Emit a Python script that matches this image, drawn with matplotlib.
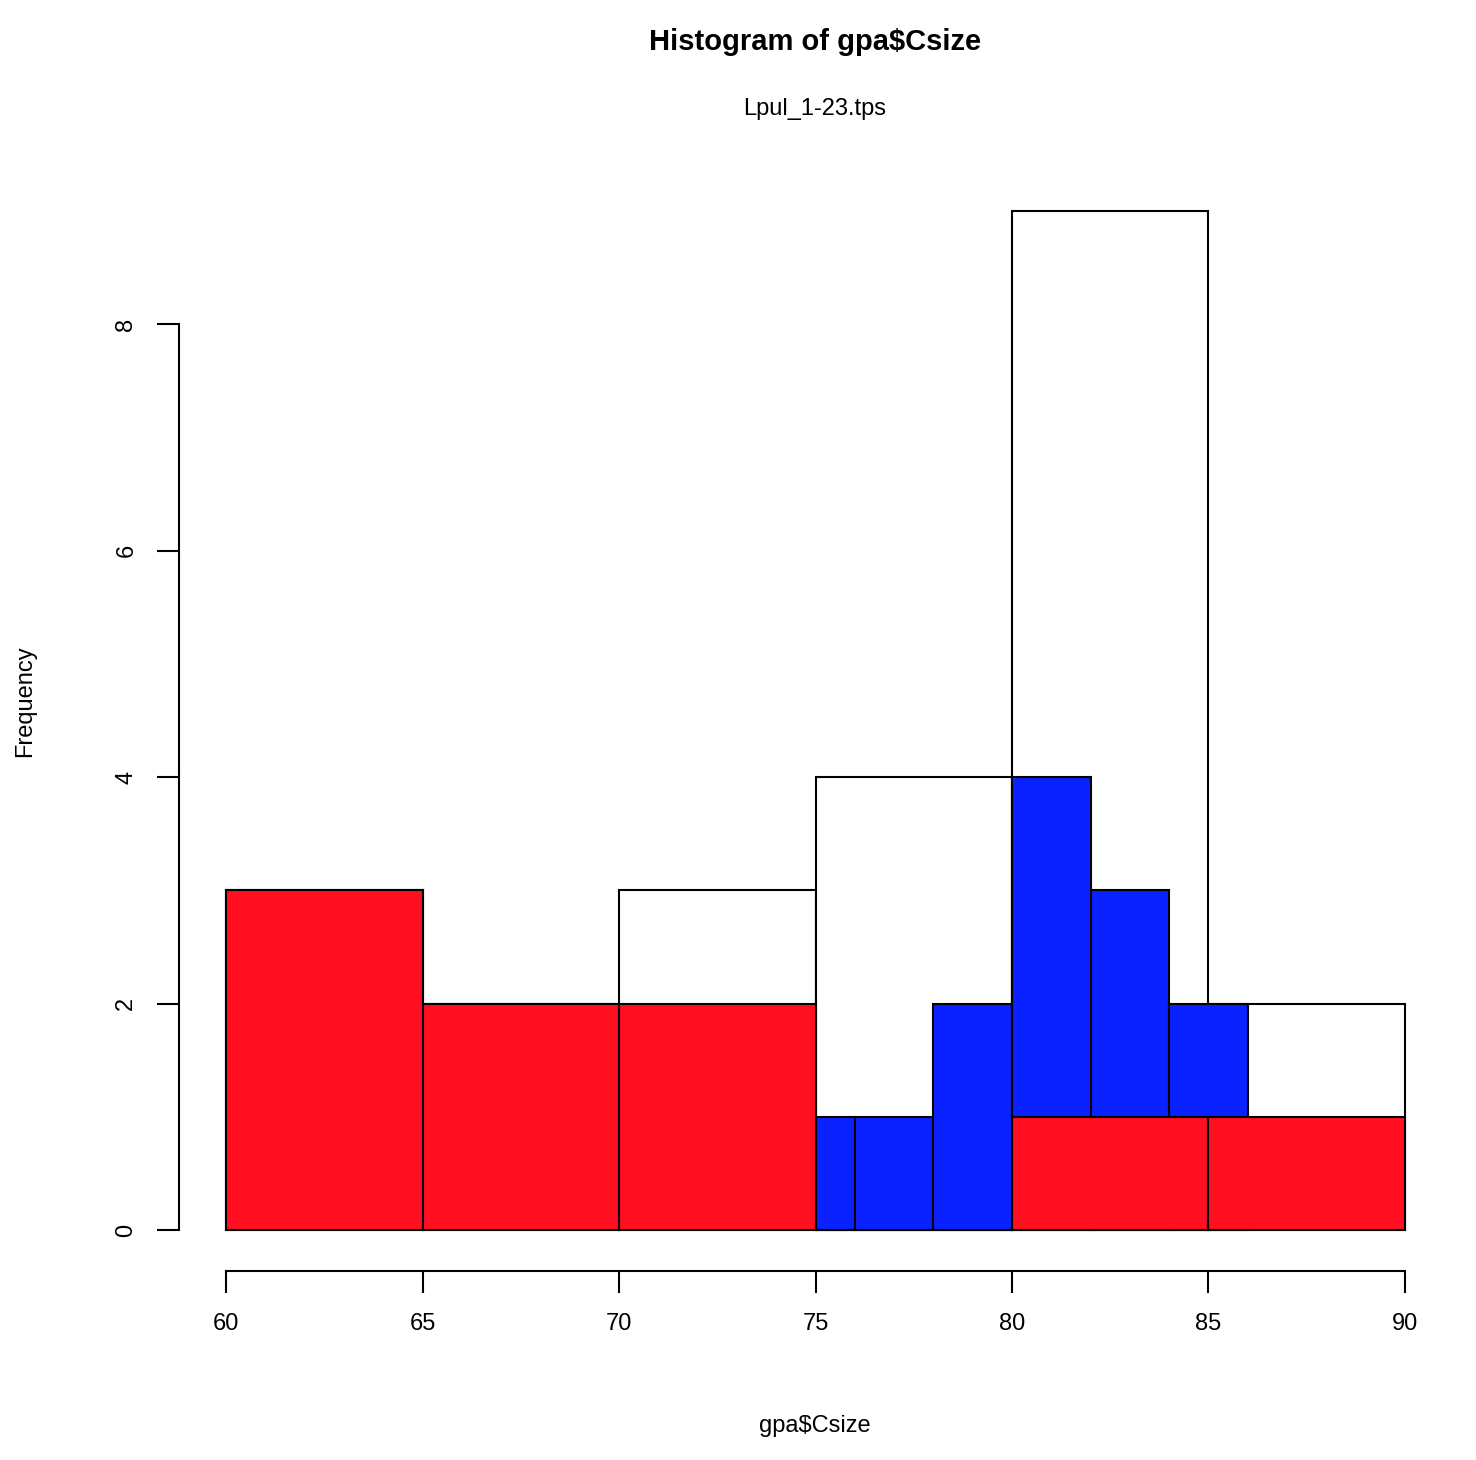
import matplotlib
matplotlib.use("Agg")
import matplotlib.pyplot as plt

plt.rcParams['font.family'] = ['Liberation Sans', 'DejaVu Sans']

# all specimens
all_edges = [60, 65, 70, 75, 80, 85, 90]
all_counts = [3, 2, 3, 4, 9, 2]
# blue group
blue_edges = [75, 76, 78, 80, 82, 84, 86]
blue_counts = [1, 1, 2, 4, 3, 2]
# red group
red_edges = [60, 65, 70, 75, 80, 85, 90]
red_counts = [3, 2, 2, 0, 1, 1]

fig = plt.figure(figsize=(14.76, 14.6), dpi=100)
ax = fig.add_axes([0.1213, 0.1295, 0.8625, 0.7541])

def hist(edges, counts, color):
    lefts = edges[:-1]
    widths = [b - a for a, b in zip(edges[:-1], edges[1:])]
    ax.bar(lefts, counts, width=widths, align='edge', color=color,
           edgecolor='black', linewidth=1.5)

hist(all_edges, all_counts, 'white')
hist(blue_edges, blue_counts, '#0A22FF')
hist(red_edges, red_counts, '#FF0F1F')

ax.set_xlim(58.8, 91.2)
ax.set_ylim(-0.36, 9.36)
for s in ['top', 'right']:
    ax.spines[s].set_visible(False)
ax.spines['left'].set_bounds(0, 8)
ax.spines['bottom'].set_bounds(60, 90)
for s in ['left', 'bottom']:
    ax.spines[s].set_linewidth(1.5)
ax.set_xticks(range(60, 91, 5))
ax.set_yticks([0, 2, 4, 6, 8])
ax.tick_params(direction='out', length=16, width=1.5, labelsize=17, pad=14)
for lab in ax.get_yticklabels():
    lab.set_rotation(90)
    lab.set_va('center')

fig.text(0.552, 0.971, 'Histogram of gpa$Csize', ha='center', va='center',
         fontsize=21, fontweight='bold')
fig.text(0.552, 0.925, 'Lpul_1-23.tps', ha='center', va='center', fontsize=17)
fig.text(0.552, 0.023, 'gpa$Csize', ha='center', va='center', fontsize=17)
fig.text(0.017, 0.52, 'Frequency', ha='center', va='center', fontsize=17,
         rotation=90)

fig.savefig('out.png', dpi=100)
